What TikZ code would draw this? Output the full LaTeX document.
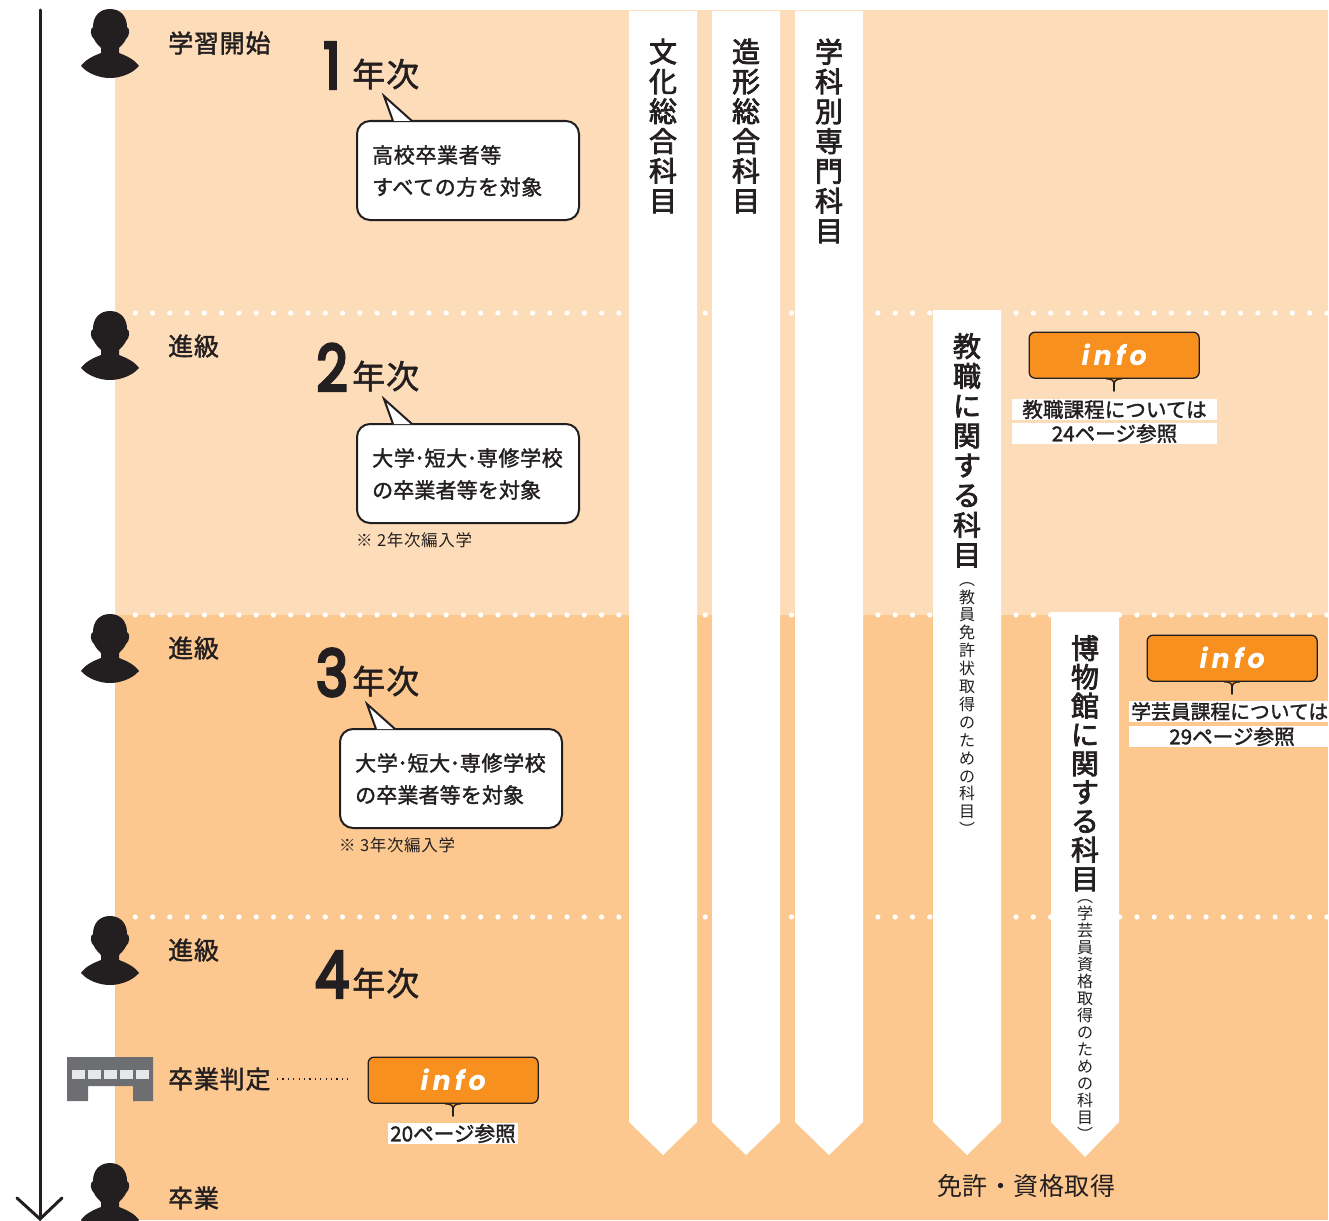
\documentclass[tikz,border=0pt]{standalone}
\usepackage{fontspec}
\usetikzlibrary{calc}
\setmainfont{Noto Sans CJK JP}
\newfontfamily\jpmid[FakeBold=1.6,LetterSpace=3]{Noto Sans CJK JP}
\newfontfamily\jptight[FakeBold=1.6,LetterSpace=0.6]{Noto Sans CJK JP}
\newfontfamily\jpbar[FakeBold=1.6]{Noto Sans CJK JP}
\newfontfamily\jptitle[FakeBold=2.6]{Noto Sans CJK JP}
\newfontfamily\jpplain[LetterSpace=2]{Noto Sans CJK JP}
\newfontfamily\jpnote[LetterSpace=4]{Noto Sans CJK JP}
\newfontfamily\infofont[LetterSpace=15]{Poppins}
\newfontfamily\digitfont[FakeBold=5]{Poppins}

\definecolor{pale_bg}{HTML}{FDDCB9}
\definecolor{deep_bg}{HTML}{FCC890}
\definecolor{ink}{HTML}{231F20}
\definecolor{info_org}{HTML}{F7901E}
\definecolor{hall_grey}{HTML}{6D6E71}
\definecolor{hall_win}{HTML}{E6E7E8}

\tikzset{
    every node/.style={inner sep=0pt, text=ink},
    steplabel/.style={anchor=west, font=\jpmid\fontsize{25}{26}\selectfont},
    yeardigit/.style={anchor=center, xscale=0.85, font=\digitfont\fontsize{64}{64}\selectfont},
    yearword/.style={anchor=west, font=\jpmid\fontsize{33}{33}\selectfont},
    callbox/.style={draw=ink, line width=2pt, fill=white, rounded corners=13pt,
        minimum width=222pt, minimum height=99pt, anchor=north west},
    calltail/.style={draw=ink, line width=2pt, fill=white, line join=miter},
    calltext/.style={anchor=west, font=\jpmid\fontsize{21}{22}\selectfont},
    notetext/.style={anchor=west, font=\jpnote\fontsize{16.5}{18}\selectfont},
    infobox/.style={draw=ink, line width=1.3pt, fill=info_org, rounded corners=6pt,
        minimum width=170pt, minimum height=46pt, anchor=north west,
        text=white, font=\infofont\bfseries\itshape\fontsize{27}{27}\selectfont},
    infobar/.style={fill=white, minimum height=21pt, anchor=center,
        font=\jpbar\fontsize{20.6}{22}\selectfont},
    stripbody/.style={fill=white},
    striptitle/.style={anchor=north, align=center, font=\jptitle\fontsize{28}{29.8}\selectfont},
    stripsub/.style={anchor=north, align=center, font=\jpplain\fontsize{16}{17.9}\selectfont},
    person/.pic={
        \fill[ink] (0,0) .. controls (11,0) and (17,8) .. (17,18)
            .. controls (20,19) and (20,27) .. (16,30)
            .. controls (15,33) and (11,37) .. (9,39) -- (9,44)
            .. controls (17,47) and (25,51) .. (29,57)
            .. controls (22,65) and (10,69) .. (0,69)
            .. controls (-10,69) and (-22,65) .. (-29,57)
            .. controls (-25,51) and (-17,47) .. (-9,44) -- (-9,39)
            .. controls (-11,37) and (-15,33) .. (-16,30)
            .. controls (-20,27) and (-20,19) .. (-17,18)
            .. controls (-17,8) and (-11,0) .. (0,0) -- cycle;
    }
}

% info box with its little tail
\newcommand{\infotag}[3]{
    \node[infobox] (#1) at (#2,#3) {info};
    \coordinate (#1_tip) at ($(#1.south)+(0,12)$);
    \draw[ink, line width=1.3pt, fill=info_org]
        ($(#1.south)+(-8,0)$) .. controls ($(#1.south)+(-2,0)$) and ($(#1.south)+(0,2)$) .. ($(#1.south)+(0,6)$)
        .. controls ($(#1.south)+(0,2)$) and ($(#1.south)+(2,0)$) .. ($(#1.south)+(8,0)$);
    \draw[ink, line width=2.4pt, line cap=round] ($(#1.south)+(0,3)$) -- (#1_tip);
}
% speech bubble, two lines of text
\newcommand{\bubble}[5]{
    \node[callbox] (#1) at (#2,#3) {};
    \coordinate (#1_tip) at ($(#1.north west)+(28,-24)$);
    \draw[calltail] ($(#1.north west)+(37,1)$) -- (#1_tip) -- ($(#1.north west)+(56,1)$);
    \node[calltext] (#1_one) at ($(#1.north west)+(16,35)$) {#4};
    \node[calltext] (#1_two) at ($(#1.north west)+(16,67)$) {#5};
}
\newcommand{\middot}{\kern-0.4pt･\kern-0.4pt}

\begin{document}
\begin{tikzpicture}[x=1pt, y=-1pt]
    \useasboundingbox (0,0) rectangle (1329,1220);
    \clip (0,0) rectangle (1329,1220);

    % bands
    \fill[pale_bg] (115,10) rectangle (1328,615);
    \fill[deep_bg] (115,615) rectangle (1328,1220);

    % dotted rows
    \foreach \rowy in {313,615,917}
        \foreach \i in {0,...,69}
            \fill[white] ({135.3+17.27*\i},\rowy) circle (2.6pt);

    % time arrow
    \coordinate (arrow_top) at (40,10);
    \coordinate (arrow_end) at (40,1219);
    \coordinate (barb_l) at (17,1198);
    \coordinate (barb_r) at (62,1198);
    \draw[ink, line width=3pt, line cap=round] (arrow_top) -- (arrow_end);
    \draw[ink, line width=3pt, line cap=round] (barb_l) -- (arrow_end) -- (barb_r);

    % people
    \pic at (110,9) {person};
    \pic at (110,311) {person};
    \pic at (110,614) {person};
    \pic at (110,916) {person};
    \pic at (110,1163) {person};

    % hall
    \fill[hall_grey] (67,1057) -- (153,1057) -- (153,1101) -- (133,1101) -- (133,1086)
        -- (88,1086) -- (88,1101) -- (67,1101) -- cycle;
    \foreach \winx in {71.5,87.5,103.5,119.5,135.5}
        \fill[hall_win] (\winx,1070) rectangle ++(13.5,9);

    % step labels
    \node[steplabel] (lab_start) at (168,43) {学習開始};
    \node[steplabel] (lab_two) at (168,346) {進級};
    \node[steplabel] (lab_three) at (168,648) {進級};
    \node[steplabel] (lab_four) at (168,950) {進級};
    \node[steplabel] (lab_judge) at (168,1079) {卒業判定};
    \node[steplabel] (lab_grad) at (168,1198) {卒業};

    % years
    \node[yeardigit] (year_a) at (332,65.5) {1};
    \node[yearword] (word_a) at (352,74) {年次};
    \node[yeardigit] (year_b) at (332,367.5) {2};
    \node[yearword] (word_b) at (352,376) {年次};
    \node[yeardigit] (year_c) at (332,672.5) {3};
    \node[yearword] (word_c) at (352,681) {年次};
    \node[yeardigit] (year_d) at (332,974.5) {4};
    \node[yearword] (word_d) at (352,983) {年次};

    % bubbles
    \bubble{bub_a}{356}{120}{高校卒業者等}{すべての方を対象}
    \bubble{bub_b}{356}{423}{大学\middot 短大\middot 専修学校}{\jptight\fontsize{21}{22}\selectfont の卒業者等を対象}
    \bubble{bub_c}{339}{728}{大学\middot 短大\middot 専修学校}{\jptight\fontsize{21}{22}\selectfont の卒業者等を対象}
    \node[notetext] (note_b) at (356,540.5) {※ 2年次編入学};
    \node[notetext] (note_c) at (339,845.5) {※ 3年次編入学};

    % strips
    \foreach \sx/\stop/\stip in {629/11/1155,712/11/1155,795/11/1155,933/310/1155,1051/612/1157}
        \fill[stripbody] (\sx,\stop) -- ++(68,0) -- (\sx+68,1122) -- (\sx+34,\stip) -- (\sx,1122) -- cycle;

    \node[striptitle] (col_a) at (663,38.5) {文\\化\\総\\合\\科\\目};
    \node[striptitle] (col_b) at (746,38.5) {造\\形\\総\\合\\科\\目};
    \node[striptitle] (col_c) at (829,38.5) {学\\科\\別\\専\\門\\科\\目};
    \node[striptitle] (col_d) at (967,333) {教\\職\\に\\関\\す\\る\\科\\目};
    \node[stripsub] (col_d_sub) at (967,582) {︵\\教\\員\\免\\許\\状\\取\\得\\の\\た\\め\\の\\科\\目\\︶};
    \node[striptitle, font=\jptitle\fontsize{28}{28.8}\selectfont] (col_e) at (1085,635) {博\\物\\館\\に\\関\\す\\る\\科\\目};
    \node[stripsub, font=\jpplain\fontsize{16}{17}\selectfont] (col_e_sub) at (1085,899) {︵\\学\\芸\\員\\資\\格\\取\\得\\の\\た\\め\\の\\科\\目\\︶};

    % info tags
    \infotag{info_a}{367.5}{1056.5}
    \infotag{info_b}{1028.5}{331.5}
    \infotag{info_c}{1146.5}{634.5}
    \node[infobar, minimum width=130pt] (ref_a) at (453,1133.5) {20ページ参照};
    \node[infobar, minimum width=205pt] (ref_b) at (1114.5,409.5) {教職課程については};
    \node[infobar, minimum width=205pt] (ref_bb) at (1114.5,433.5) {24ページ参照};
    \node[infobar, minimum width=200pt] (ref_c) at (1229,711.5) {};
    \node[anchor=west, font=\jpbar\fontsize{19.8}{22}\selectfont] (ref_c_text) at (1131,711.5) {学芸員課程については};
    \node[infobar, minimum width=200pt] (ref_cc) at (1229,736.5) {};
    \node[anchor=center, font=\jpbar\fontsize{20.6}{22}\selectfont] (ref_cc_text) at (1232,736.5) {29ページ参照};

    % judge to info
    \coordinate (dots_a) at (277,1079);
    \coordinate (dots_b) at (351,1079);
    \draw[ink, line width=1.2pt, dash pattern=on 1.2pt off 4.2pt] (dots_a) -- (dots_b);

    \node[anchor=center, font=\jpplain\fontsize{25}{26}\selectfont] (goal) at (1026,1186) {免許・資格取得};
\end{tikzpicture}
\end{document}
